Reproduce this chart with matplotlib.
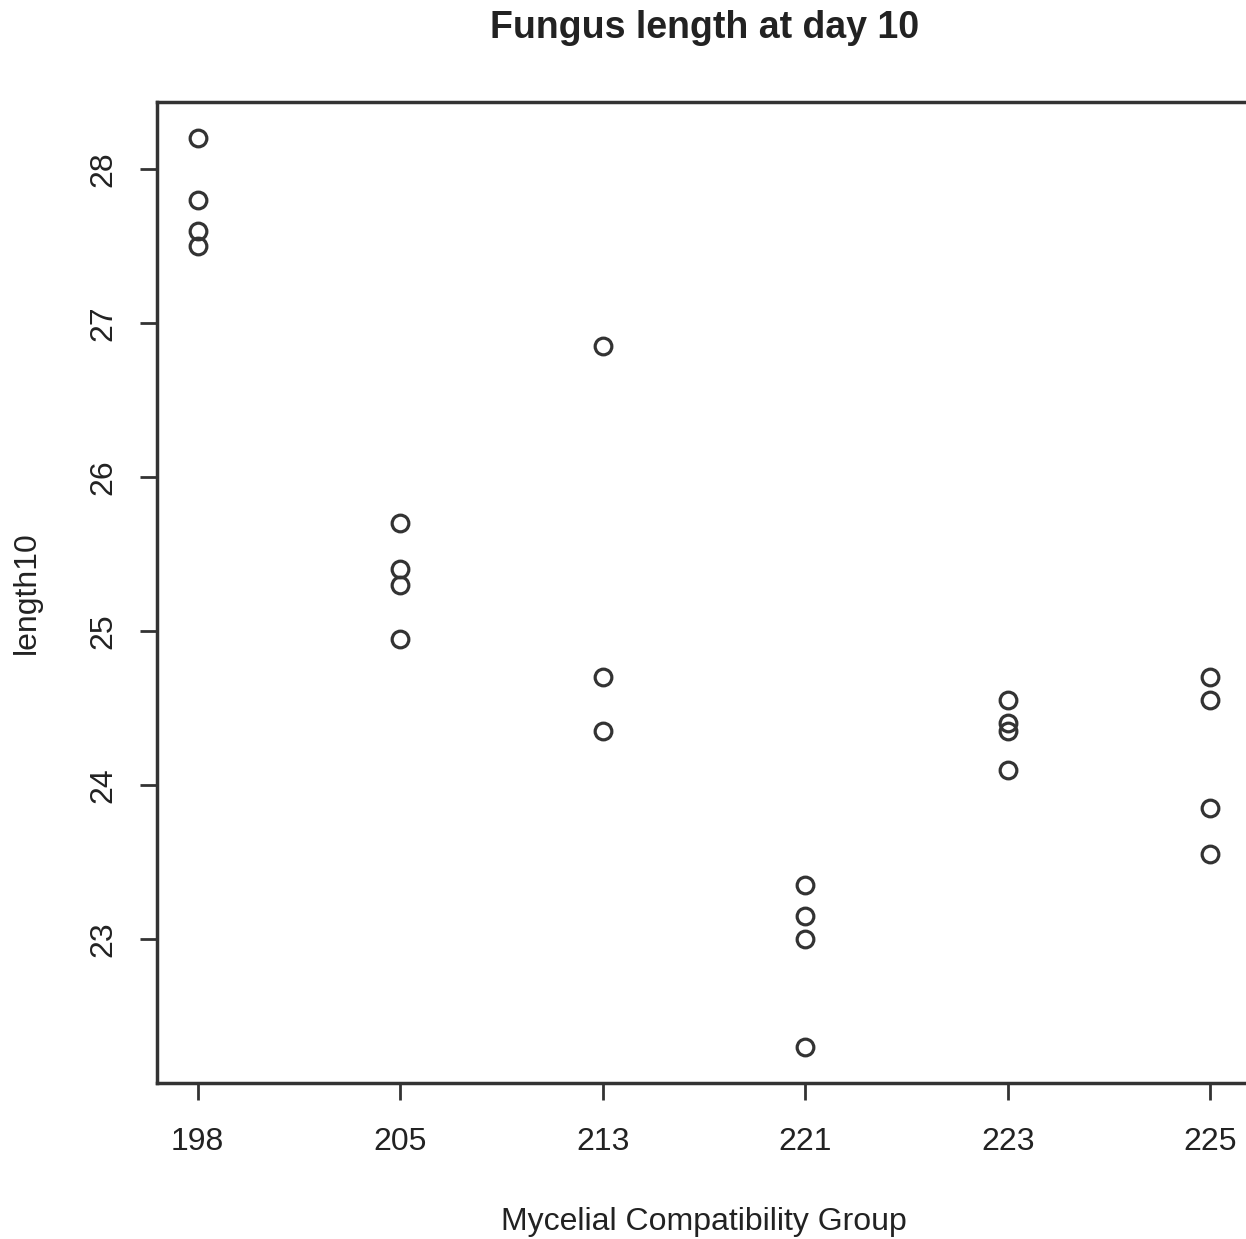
import matplotlib.pyplot as plt

plt.rcParams['font.family'] = ['Liberation Sans', 'DejaVu Sans']

groups = ['198', '205', '213', '221', '223', '225']
vals_198 = [28.2, 27.8, 27.6, 27.5]
vals_205 = [25.7, 25.4, 25.3, 24.95]
vals_213 = [26.85, 24.7, 24.35]
vals_221 = [23.35, 23.15, 23.0, 22.3]
vals_223 = [24.55, 24.4, 24.35, 24.1]
vals_225 = [24.7, 24.55, 23.85, 23.55]
values = [vals_198, vals_205, vals_213, vals_221, vals_223, vals_225]

fig = plt.figure(figsize=(12.46, 12.39), dpi=100)
# axes runs past the right edge like the cropped original
ax = fig.add_axes([157 / 1246, 156 / 1239, 1094 / 1246, 981 / 1239])

dark = '#333333'
for i, v in enumerate(values):
    ax.plot([i + 1] * len(v), v, 'o', ms=12, mfc='none', mec=dark, mew=2.3)

ax.set_xlim(0.8, 6.2)
ax.set_ylim(22.064, 28.436)
ax.set_xticks(range(1, 7))
ax.set_xticklabels(groups)
ax.set_yticks([23, 24, 25, 26, 27, 28])
ax.tick_params(axis='both', direction='out', length=12, width=2, color=dark,
               labelsize=23, labelcolor='#222222')
ax.tick_params(axis='x', pad=20)
ax.tick_params(axis='y', pad=16)
for lab in ax.get_yticklabels():
    lab.set_rotation(90)
    lab.set_va('center')
for s in ax.spines.values():
    s.set_linewidth(2.5)
    s.set_color(dark)

ax.set_xlabel('Mycelial Compatibility Group', fontsize=23, color='#222222', labelpad=36)
ax.set_ylabel('length10', fontsize=23, color='#222222', labelpad=33)
fig.suptitle('Fungus length at day 10', fontsize=27, fontweight='bold',
             color='#222222', x=705 / 1246, y=1 - 28 / 1239, va='center')

fig.savefig('out.png', dpi=100)
